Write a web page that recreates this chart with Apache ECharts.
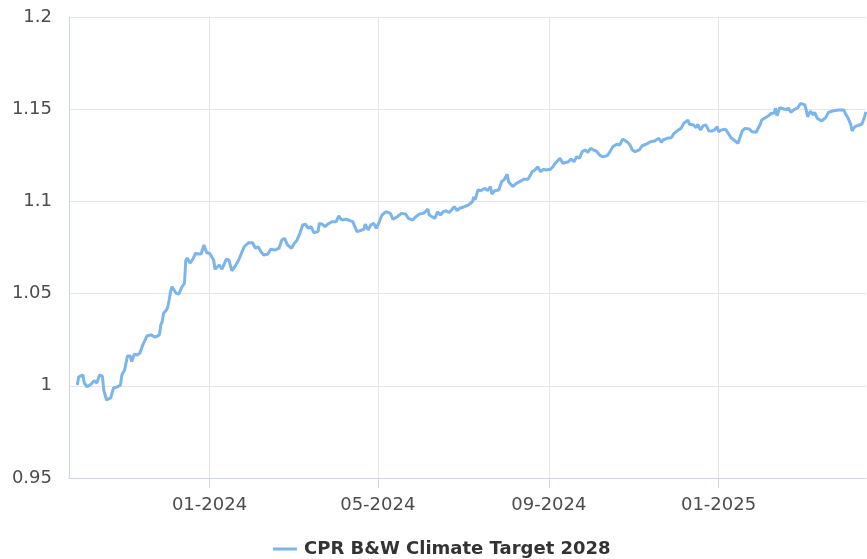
<!DOCTYPE html>
<html>
<head>
<meta charset="utf-8">
<script src="https://cdn.jsdelivr.net/npm/echarts@6/dist/echarts.min.js"></script>
<style>
  html, body { margin: 0; padding: 0; background: #ffffff; }
  #chart { width: 867px; height: 559px; }
</style>
</head>
<body>
<div id="chart"></div>
<script>
// Fund name shown in the legend
const seriesName = 'CPR B&W Climate Target 2028';

// Observation dates of the NAV-based index
const dates = [
  '2023-09-28','2023-09-29','2023-10-02','2023-10-03','2023-10-05','2023-10-08','2023-10-10','2023-10-12',
  '2023-10-14','2023-10-16','2023-10-17','2023-10-19','2023-10-22','2023-10-24','2023-10-27','2023-10-29',
  '2023-10-30','2023-11-01','2023-11-03','2023-11-05','2023-11-06','2023-11-08','2023-11-10','2023-11-12',
  '2023-11-14','2023-11-17','2023-11-20','2023-11-21','2023-11-23','2023-11-26','2023-11-27','2023-11-28',
  '2023-11-29','2023-12-01','2023-12-02','2023-12-03','2023-12-04','2023-12-05','2023-12-08','2023-12-10',
  '2023-12-12','2023-12-14','2023-12-15','2023-12-16','2023-12-18','2023-12-20','2023-12-22','2023-12-24',
  '2023-12-26','2023-12-28','2023-12-30','2024-01-01','2024-01-04','2024-01-05','2024-01-08','2024-01-10',
  '2024-01-13','2024-01-15','2024-01-17','2024-01-19','2024-01-22','2024-01-24','2024-01-26','2024-01-29',
  '2024-02-01','2024-02-03','2024-02-05','2024-02-07','2024-02-09','2024-02-12','2024-02-14','2024-02-17',
  '2024-02-20','2024-02-22','2024-02-24','2024-02-26','2024-02-29','2024-03-02','2024-03-04','2024-03-06',
  '2024-03-08','2024-03-10','2024-03-12','2024-03-14','2024-03-16','2024-03-19','2024-03-20','2024-03-22',
  '2024-03-24','2024-03-26','2024-03-29','2024-04-01','2024-04-03','2024-04-05','2024-04-08','2024-04-10',
  '2024-04-13','2024-04-16','2024-04-18','2024-04-21','2024-04-22','2024-04-24','2024-04-26','2024-04-28',
  '2024-04-30','2024-05-02','2024-05-04','2024-05-07','2024-05-10','2024-05-12','2024-05-15','2024-05-18',
  '2024-05-21','2024-05-23','2024-05-26','2024-05-28','2024-05-31','2024-06-03','2024-06-06','2024-06-07',
  '2024-06-09','2024-06-11','2024-06-13','2024-06-15','2024-06-17','2024-06-19','2024-06-21','2024-06-23',
  '2024-06-25','2024-06-27','2024-06-29','2024-07-02','2024-07-05','2024-07-08','2024-07-09','2024-07-10',
  '2024-07-12','2024-07-14','2024-07-17','2024-07-19','2024-07-21','2024-07-22','2024-07-24','2024-07-27',
  '2024-07-29','2024-07-31','2024-08-02','2024-08-03','2024-08-06','2024-08-08','2024-08-11','2024-08-14',
  '2024-08-17','2024-08-20','2024-08-22','2024-08-24','2024-08-26','2024-08-28','2024-08-30','2024-09-02',
  '2024-09-04','2024-09-05','2024-09-09','2024-09-11','2024-09-15','2024-09-17','2024-09-19','2024-09-21',
  '2024-09-23','2024-09-25','2024-09-27','2024-09-29','2024-10-01','2024-10-03','2024-10-05','2024-10-08',
  '2024-10-10','2024-10-13','2024-10-15','2024-10-17','2024-10-20','2024-10-22','2024-10-24','2024-10-27',
  '2024-10-29','2024-10-31','2024-11-02','2024-11-05','2024-11-07','2024-11-10','2024-11-13','2024-11-16',
  '2024-11-19','2024-11-21','2024-11-22','2024-11-25','2024-11-28','2024-11-30','2024-12-03','2024-12-05',
  '2024-12-07','2024-12-10','2024-12-11','2024-12-14','2024-12-16','2024-12-17','2024-12-19','2024-12-21',
  '2024-12-23','2024-12-25','2024-12-27','2024-12-29','2024-12-31','2025-01-01','2025-01-03','2025-01-06',
  '2025-01-08','2025-01-10','2025-01-12','2025-01-15','2025-01-16','2025-01-18','2025-01-20','2025-01-23',
  '2025-01-25','2025-01-28','2025-01-30','2025-01-31','2025-02-01','2025-02-03','2025-02-06','2025-02-08',
  '2025-02-10','2025-02-11','2025-02-12','2025-02-14','2025-02-17','2025-02-19','2025-02-20','2025-02-22',
  '2025-02-24','2025-02-27','2025-03-01','2025-03-04','2025-03-05','2025-03-06','2025-03-08','2025-03-10',
  '2025-03-11','2025-03-13','2025-03-16','2025-03-19','2025-03-21','2025-03-24','2025-03-28','2025-04-01',
  '2025-04-02','2025-04-04','2025-04-06','2025-04-07','2025-04-09','2025-04-10','2025-04-12','2025-04-14',
  '2025-04-16','2025-04-17'
];

// Rebased value (start = 1)
const values = [
  1.0004,1.0049,1.0059,1.0015,0.9995,1.0010,1.0028,1.0015,
  1.0059,1.0053,0.9977,0.9923,0.9934,0.9988,0.9995,1.0004,
  1.0059,1.0086,1.0162,1.0162,1.0131,1.0172,1.0167,1.0178,
  1.0221,1.0270,1.0276,1.0272,1.0263,1.0276,1.0330,1.0348,
  1.0393,1.0411,1.0427,1.0465,1.0510,1.0537,1.0502,1.0498,
  1.0534,1.0556,1.0682,1.0693,1.0666,1.0686,1.0719,1.0715,
  1.0715,1.0764,1.0722,1.0719,1.0682,1.0632,1.0655,1.0632,
  1.0686,1.0682,1.0624,1.0643,1.0682,1.0719,1.0754,1.0776,
  1.0776,1.0746,1.0754,1.0727,1.0709,1.0715,1.0740,1.0736,
  1.0746,1.0791,1.0800,1.0764,1.0746,1.0773,1.0791,1.0827,
  1.0872,1.0877,1.0854,1.0863,1.0830,1.0836,1.0881,1.0877,
  1.0863,1.0877,1.0890,1.0890,1.0921,1.0899,1.0903,1.0899,
  1.0890,1.0836,1.0841,1.0849,1.0877,1.0845,1.0872,1.0881,
  1.0854,1.0888,1.0926,1.0944,1.0935,1.0903,1.0917,1.0935,
  1.0932,1.0908,1.0899,1.0914,1.0932,1.0935,1.0959,1.0926,
  1.0917,1.0908,1.0944,1.0926,1.0944,1.0950,1.0939,1.0953,
  1.0971,1.0950,1.0963,1.0971,1.0980,1.0998,1.1025,1.1008,
  1.1062,1.1058,1.1071,1.1058,1.1080,1.1040,1.1058,1.1062,
  1.1107,1.1120,1.1147,1.1107,1.1080,1.1094,1.1107,1.1120,
  1.1120,1.1161,1.1170,1.1188,1.1161,1.1174,1.1170,1.1174,
  1.1188,1.1201,1.1234,1.1207,1.1215,1.1230,1.1215,1.1242,
  1.1234,1.1270,1.1279,1.1266,1.1288,1.1279,1.1273,1.1248,
  1.1242,1.1248,1.1270,1.1297,1.1310,1.1306,1.1338,1.1324,
  1.1310,1.1279,1.1270,1.1279,1.1302,1.1310,1.1324,1.1328,
  1.1342,1.1320,1.1333,1.1342,1.1345,1.1369,1.1387,1.1396,
  1.1424,1.1441,1.1418,1.1414,1.1400,1.1418,1.1387,1.1411,
  1.1414,1.1382,1.1382,1.1387,1.1405,1.1378,1.1387,1.1391,
  1.1369,1.1345,1.1333,1.1315,1.1338,1.1382,1.1396,1.1393,
  1.1378,1.1375,1.1405,1.1418,1.1441,1.1451,1.1465,1.1478,
  1.1478,1.1505,1.1465,1.1508,1.1501,1.1496,1.1508,1.1483,
  1.1496,1.1508,1.1532,1.1523,1.1496,1.1459,1.1490,1.1469,
  1.1483,1.1451,1.1436,1.1454,1.1483,1.1490,1.1496,1.1496,
  1.1478,1.1454,1.1418,1.1382,1.1405,1.1396,1.1414,1.1418,
  1.1459,1.1486
];

// Axis extent and labelled month ticks
const xStart = '2023-09-22';
const xEnd = '2025-04-17';
const monthTicks = ['2024-01-01', '2024-05-01', '2024-09-01', '2025-01-01'];
const yTicks = { min: 0.95, max: 1.2, step: 0.05 };

const toTime = s => {
  const [y, m, d] = s.split('-').map(Number);
  return new Date(y, m - 1, d).getTime();
};
const pad2 = n => (n < 10 ? '0' : '') + n;

const chart = echarts.init(document.getElementById('chart'), null, { renderer: 'canvas' });
const font = 'DejaVu Sans';
const tickTimes = monthTicks.map(toTime);

chart.setOption({
  animation: false,
  backgroundColor: '#ffffff',
  grid: { left: 69, right: 1, top: 17, bottom: 81, containLabel: false },
  legend: {
    data: [seriesName],
    left: 273,
    top: 540,
    padding: 0,
    icon: 'rect',
    itemWidth: 24,
    itemHeight: 3,
    textStyle: { fontFamily: font, fontSize: 18, fontWeight: 'bold', color: '#333333', padding: [0, 0, 0, 2] }
  },
  xAxis: {
    type: 'value',
    min: toTime(xStart),
    max: toTime(xEnd),
    axisLine: { show: true, lineStyle: { color: '#ccd6eb', width: 1 } },
    axisTick: { show: true, length: 10, lineStyle: { color: '#ccd6eb' }, customValues: tickTimes },
    axisLabel: {
      customValues: tickTimes,
      margin: 18,
      fontFamily: font,
      fontSize: 18,
      color: '#4d4d4d',
      formatter: v => { const d = new Date(v); return pad2(d.getMonth() + 1) + '-' + d.getFullYear(); }
    },
    splitLine: { show: true, lineStyle: { color: '#e6e6e6', width: 1 } }
  },
  yAxis: {
    type: 'value',
    min: yTicks.min,
    max: yTicks.max,
    interval: yTicks.step,
    axisLine: { show: true, lineStyle: { color: '#ccd6eb', width: 1 } },
    axisTick: { show: false },
    axisLabel: {
      margin: 17,
      fontFamily: font,
      fontSize: 18,
      color: '#4d4d4d',
      formatter: v => String(+v.toFixed(2))
    },
    splitLine: { show: true, lineStyle: { color: '#e6e6e6', width: 1 } }
  },
  series: [{
    name: seriesName,
    type: 'line',
    data: dates.map((d, i) => [toTime(d), values[i]]),
    showSymbol: false,
    symbol: 'none',
    lineStyle: { color: '#7cb5ec', width: 3 },
    itemStyle: { color: '#7cb5ec' }
  }]
});
</script>
</body>
</html>
